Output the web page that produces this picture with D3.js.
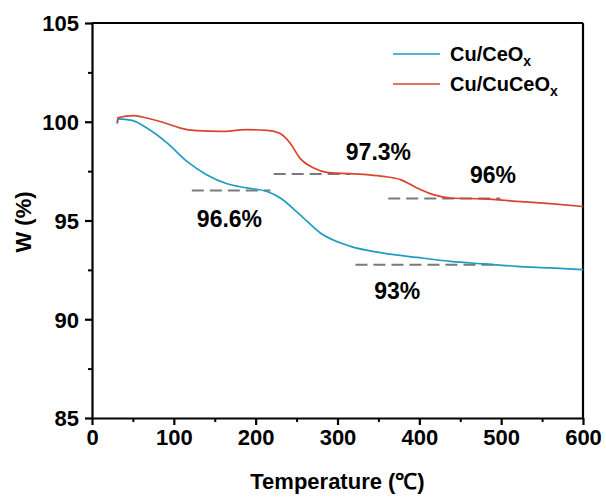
<!DOCTYPE html>
<html>
<head>
<meta charset="utf-8">
<script src="https://cdn.jsdelivr.net/npm/d3@7"></script>
<style>
  body { margin: 0; background: #fff; }
  text { font-family: "Liberation Sans", Arial, sans-serif; font-weight: bold; fill: #000; }
</style>
</head>
<body>
<div id="chart"></div>
<script>
// ------------------------------------------------------------
// DATA
// ------------------------------------------------------------
var ceoxTemp = [31, 31.5, 49, 67, 92, 116, 140, 165, 189, 214, 230, 254, 279, 316, 356, 397, 438, 479, 519, 560, 600];
var ceoxW    = [99.9, 100.15, 100.07, 99.68, 98.92, 97.99, 97.32, 96.86, 96.65, 96.47, 96.14, 95.3, 94.37, 93.69, 93.35, 93.13, 92.93, 92.8, 92.68, 92.6, 92.51];

var cuceoxTemp = [31, 31.5, 51, 67, 92, 108, 128, 157, 189, 214, 230, 242, 254, 271, 287, 336, 356, 377, 397, 417, 438, 479, 519, 560, 600];
var cuceoxW    = [99.95, 100.2, 100.31, 100.19, 99.9, 99.68, 99.55, 99.51, 99.6, 99.56, 99.4, 98.92, 98.16, 97.66, 97.44, 97.32, 97.23, 97.07, 96.65, 96.31, 96.14, 96.09, 95.97, 95.85, 95.71];

// dashed plateau guides: start temp, end temp, level
var guideStart = [122, 222, 362, 322];
var guideEnd   = [218, 316, 499, 491];
var guideLevel = [96.52, 97.35, 96.12, 92.76];

// annotation labels: text, centre temp, baseline level
var noteText = ["96.6%", "97.3%", "96%", "93%"];
var noteTemp = [168, 350, 490, 373];
var noteW    = [94.69, 98.08, 96.91, 91.04];

var seriesNames = ["Cu/CeO", "Cu/CuCeO"];
var seriesColors = ["#1f9cc3", "#d9442f"];

var xTicks = [0, 100, 200, 300, 400, 500, 600];
var yTicks = [85, 90, 95, 100, 105];

// ------------------------------------------------------------
// SIZE
// ------------------------------------------------------------
var width = 606, height = 498;
var margin = { top: 23, right: 23, bottom: 80, left: 92 };
var chartWidth = width - margin.left - margin.right;
var chartHeight = height - margin.top - margin.bottom;

var svg = d3.select("#chart").append("svg")
   .attr("width", width)
   .attr("height", height);

var g = svg.append("g")
   .attr("transform", `translate(${margin.left},${margin.top})`);

var x = d3.scaleLinear().domain([0, 600]).range([0, chartWidth]);
var y = d3.scaleLinear().domain([85, 105]).range([chartHeight, 0]);

// minor ticks
var xMinor = d3.range(50, 600, 100);
var yMinor = d3.range(87.5, 105, 5);

g.append("g")
   .attr("transform", `translate(0,${chartHeight})`)
   .call(d3.axisBottom(x).tickValues(xMinor).tickSize(4).tickFormat(""))
   .call(a => a.select(".domain").remove())
   .selectAll("line").attr("stroke-width", 2);

g.append("g")
   .call(d3.axisLeft(y).tickValues(yMinor).tickSize(4).tickFormat(""))
   .call(a => a.select(".domain").remove())
   .selectAll("line").attr("stroke-width", 2);

// major axes
var xAxis = g.append("g")
   .attr("transform", `translate(0,${chartHeight})`)
   .call(d3.axisBottom(x).tickValues(xTicks).tickSize(7).tickPadding(4).tickSizeOuter(0));
xAxis.selectAll("text").style("font-size", "22px");

var yAxis = g.append("g")
   .call(d3.axisLeft(y).tickValues(yTicks).tickSize(7).tickPadding(6).tickSizeOuter(0));
yAxis.selectAll("text").style("font-size", "22px").attr("dy", "0.36em");

[xAxis, yAxis].forEach(a => {
   a.select(".domain").attr("stroke-width", 2.2);
   a.selectAll(".tick line").attr("stroke-width", 2.2);
});

// top and right frame
g.append("line").attr("x1", 0).attr("x2", chartWidth).attr("y1", 0).attr("y2", 0)
   .attr("stroke", "#000").attr("stroke-width", 2.2);
g.append("line").attr("x1", chartWidth).attr("x2", chartWidth).attr("y1", 0).attr("y2", chartHeight)
   .attr("stroke", "#000").attr("stroke-width", 2.2);

// dashed guides
g.selectAll(".guide")
   .data(guideLevel)
   .enter().append("line")
   .attr("x1", (d, i) => x(guideStart[i]))
   .attr("x2", (d, i) => x(guideEnd[i]))
   .attr("y1", d => y(d))
   .attr("y2", d => y(d))
   .attr("stroke", "#7a7a7a")
   .attr("stroke-width", 2)
   .attr("stroke-dasharray", "12,6");

// curves
var line = d3.line()
   .x(d => x(d[0]))
   .y(d => y(d[1]))
   .curve(d3.curveMonotoneX);

var series = [
   d3.zip(ceoxTemp, ceoxW),
   d3.zip(cuceoxTemp, cuceoxW)
];

series.forEach((s, i) => {
   g.append("path")
      .datum(s)
      .attr("d", line)
      .attr("fill", "none")
      .attr("stroke", seriesColors[i])
      .attr("stroke-width", 1.7);
});

// annotations
g.selectAll(".note")
   .data(noteText)
   .enter().append("text")
   .attr("x", (d, i) => x(noteTemp[i]))
   .attr("y", (d, i) => y(noteW[i]))
   .attr("text-anchor", "middle")
   .style("font-size", "23px")
   .text(d => d);

// legend
var legend = svg.append("g").attr("transform", "translate(393,54)");
seriesNames.forEach((name, i) => {
   var row = legend.append("g").attr("transform", `translate(0,${i * 30})`);
   row.append("line")
      .attr("x1", 0).attr("x2", 47)
      .attr("y1", 0).attr("y2", 0)
      .attr("stroke", seriesColors[i])
      .attr("stroke-width", 1.7);
   var t = row.append("text")
      .attr("x", 57)
      .attr("y", 7)
      .style("font-size", "20px")
      .text(name);
   t.append("tspan")
      .attr("dy", 5)
      .style("font-size", "14px")
      .text("x");
});

// axis titles
svg.append("text")
   .attr("x", margin.left + chartWidth / 2)
   .attr("y", 489)
   .attr("text-anchor", "middle")
   .style("font-size", "22px")
   .text("Temperature (℃)");

svg.append("text")
   .attr("transform", "translate(31,222) rotate(-90)")
   .attr("text-anchor", "middle")
   .style("font-size", "22px")
   .text("W (%)");
</script>
</body>
</html>
